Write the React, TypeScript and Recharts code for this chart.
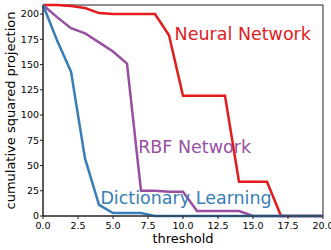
import React from 'react';
import { LineChart, Line, XAxis, YAxis, ReferenceArea, ReferenceDot, Label } from 'recharts';

const thresholds = [0, 1, 2, 3, 4, 5, 6, 7, 8, 9, 10, 11, 12, 13, 14, 15, 16, 17, 18, 19, 20];
const neuralNetwork = [209, 209, 208, 206, 201, 200, 200, 200, 200, 179, 119, 119, 119, 119, 34, 34, 34, 0, 0, 0, 0];
const rbfNetwork = [209, 197, 186, 181, 172, 163, 151, 25, 25, 24, 24, 5, 5, 5, 5, 0, 0, 0, 0, 0, 0];
const dictionaryLearning = [209, 174, 143, 57, 11, 3, 3, 3, 0, 0, 0, 0, 0, 0, 0, 0, 0, 0, 0, 0, 0];
const xTicks = [0, 2.5, 5, 7.5, 10, 12.5, 15, 17.5, 20];
const yTicks = [0, 25, 50, 75, 100, 125, 150, 175, 200];

const data = thresholds.map((t, i) => ({
  t,
  nn: neuralNetwork[i],
  rbf: rbfNetwork[i],
  dl: dictionaryLearning[i],
}));

const FONT = 'DejaVu Sans';

const makeLabel = (text: string, color: string) => (props: any) => {
  const vb = props.viewBox || {};
  const x = (vb.x ?? 0) + (vb.width ?? 0) / 2;
  const y = (vb.y ?? 0) + (vb.height ?? 0) / 2;
  return (
    <text x={x} y={y} fill={color} fontSize={17.5} fontFamily={FONT} textAnchor="start">
      {text}
    </text>
  );
};

export default function App() {
  return (
    <div style={{ position: 'absolute', left: 0, top: 0 }}>
      <LineChart width={331} height={250} data={data} margin={{ top: 5, right: 8, bottom: 0, left: 0 }}>
        <XAxis
          dataKey="t"
          type="number"
          domain={[0, 20]}
          ticks={xTicks}
          tickFormatter={(v: number) => v.toFixed(1)}
          height={34}
          tickSize={3}
          tickMargin={3}
          stroke="#222"
          tick={{ fontSize: 9.5, fill: '#000', fontFamily: FONT }}
          interval={0}
        >
          <Label
            content={(p: any) => {
              const vb = p.viewBox || {};
              return (
                <text x={vb.x + vb.width / 2} y={243} textAnchor="middle" fontSize={13} fontFamily={FONT} fill="#000">
                  threshold
                </text>
              );
            }}
          />
        </XAxis>
        <YAxis
          type="number"
          domain={[0, 209]}
          ticks={yTicks}
          width={43}
          tickSize={3}
          tickMargin={1}
          stroke="#222"
          tick={{ fontSize: 9.5, fill: '#000', fontFamily: FONT }}
          interval={0}
        >
          <Label
            content={(p: any) => {
              const vb = p.viewBox || {};
              const cy = vb.y + vb.height / 2;
              return (
                <text
                  x={15}
                  y={cy}
                  transform={`rotate(-90 15 ${cy})`}
                  textAnchor="middle"
                  fontSize={13}
                  fontFamily={FONT}
                  fill="#000"
                >
                  cumulative squared projection
                </text>
              );
            }}
          />
        </YAxis>
        <ReferenceArea x1={0} x2={20} y1={0} y2={209} fill="none" stroke="#222" strokeWidth={1} fillOpacity={0} />
        <Line type="linear" dataKey="nn" stroke="#e41a1c" strokeWidth={2.5} dot={false} isAnimationActive={false} />
        <Line type="linear" dataKey="rbf" stroke="#984ea3" strokeWidth={2.5} dot={false} isAnimationActive={false} />
        <Line type="linear" dataKey="dl" stroke="#377eb8" strokeWidth={2.5} dot={false} isAnimationActive={false} />
        <ReferenceDot x={9.4} y={174} r={1} fill="none" stroke="none" label={makeLabel('Neural Network', '#e41a1c')} />
        <ReferenceDot x={6.8} y={62} r={1} fill="none" stroke="none" label={makeLabel('RBF Network', '#984ea3')} />
        <ReferenceDot x={4.1} y={12} r={1} fill="none" stroke="none" label={makeLabel('Dictionary Learning', '#377eb8')} />
      </LineChart>
    </div>
  );
}
